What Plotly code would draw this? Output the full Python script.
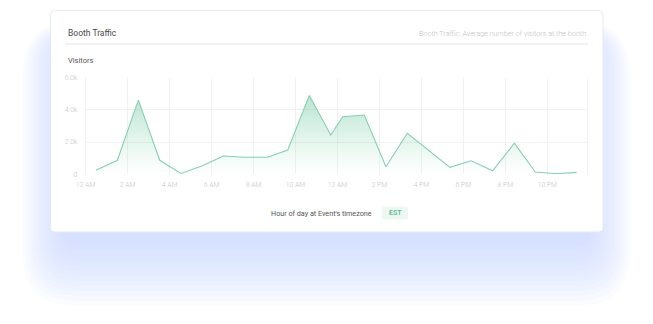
import plotly.graph_objects as go

W, H = 653, 324

# ---- data ----
hours = [0.49, 1.51, 2.51, 3.53, 4.54, 5.53, 6.56, 7.59, 8.66, 9.63, 10.66, 11.68,
         12.25, 13.28, 14.31, 15.33, 17.36, 18.37, 19.40, 20.43, 21.43, 22.42, 23.40]
visitors = [250, 870, 4610, 870, 50, 520, 1140, 1060, 1060, 1510, 4900, 2440,
            3580, 3680, 470, 2550, 430, 840, 220, 1930, 140, 30, 120]
x_tickvals = [0, 2, 4, 6, 8, 10, 12, 14, 16, 18, 20, 22]
x_ticktext = ["12 AM", "2 AM", "4 AM", "6 AM", "8 AM", "10 AM", "12 AM",
              "2 PM", "4 PM", "6 PM", "8 PM", "10 PM"]
y_tickvals = [0, 2000, 4000, 6000]
y_ticktext = ["0", "2.0k", "4.0k", "6.0k"]

FONT = "Roboto"


def px(x):
    return x / W


def py(y):
    return 1 - y / H


def rrect(x0, y0, x1, y1, r):
    rx, ry = r / W, r / H
    X0, X1 = px(x0), px(x1)
    Y0, Y1 = py(y0), py(y1)  # Y0 top (higher), Y1 bottom
    return (f"M {X0+rx},{Y0} L {X1-rx},{Y0} Q {X1},{Y0} {X1},{Y0-ry} "
            f"L {X1},{Y1+ry} Q {X1},{Y1} {X1-rx},{Y1} "
            f"L {X0+rx},{Y1} Q {X0},{Y1} {X0},{Y1+ry} "
            f"L {X0},{Y0-ry} Q {X0},{Y0} {X0+rx},{Y0} Z")


shapes = []
# glow
N = 13
for i in range(N):
    shapes.append(dict(type="path", xref="paper", yref="paper", layer="below",
                       path=rrect(62 - 3.3 * i, 36 - 1.2 * i, 591 + 3.3 * i, 246 + 5 * i, 18 + 3 * i),
                       fillcolor="rgba(190,205,248,0.065)", line=dict(width=0)))
# card
shapes.append(dict(type="path", xref="paper", yref="paper", layer="below",
                   path=rrect(50.5, 10.5, 603, 232, 4),
                   fillcolor="white", line=dict(color="rgba(228,233,247,1)", width=1)))
# header separator
shapes.append(dict(type="line", xref="paper", yref="paper", layer="below",
                   x0=px(65), x1=px(588), y0=py(44), y1=py(44),
                   line=dict(color="#e4e4e4", width=1)))
# EST badge
shapes.append(dict(type="path", xref="paper", yref="paper", layer="below",
                   path=rrect(382, 206.5, 408, 219.5, 2),
                   fillcolor="#eef8f3", line=dict(width=0)))

annotations = [
    dict(text="Booth Traffic", x=px(66), y=py(33), xref="paper", yref="paper",
         xanchor="left", yanchor="middle", showarrow=False,
         font=dict(family=FONT, size=8.5, color="#4a4a4a", weight=400)),
    dict(text="Booth Traffic: Average number of visitors at the booth", x=px(588), y=py(33),
         xref="paper", yref="paper", xanchor="right", yanchor="middle", showarrow=False,
         font=dict(family=FONT, size=7.2, color="#c2c2c2", weight=300)),
    dict(text="Visitors", x=px(66), y=py(61), xref="paper", yref="paper",
         xanchor="left", yanchor="middle", showarrow=False,
         font=dict(family=FONT, size=7.5, color="#555555", weight=400)),
    dict(text="Hour of day at Event's timezone", x=px(321), y=py(213), xref="paper", yref="paper",
         xanchor="center", yanchor="middle", showarrow=False,
         font=dict(family=FONT, size=7.2, color="#555555", weight=400)),
    dict(text="EST", x=px(395), y=py(213), xref="paper", yref="paper",
         xanchor="center", yanchor="middle", showarrow=False,
         font=dict(family=FONT, size=7, color="#5cbb92", weight=600)),
]

fig = go.Figure()
fig.add_trace(go.Scatter(
    x=hours, y=visitors, mode="lines",
    line=dict(color="#84d0b1", width=1.1),
    fill="tozeroy",
    fillgradient=dict(type="vertical", start=0, stop=5000,
                      colorscale=[[0, "rgba(140,215,180,0)"], [1, "rgba(110,198,158,0.5)"]]),
    hoverinfo="skip",
))

fig.update_layout(
    width=W, height=H,
    margin=dict(l=0, r=0, t=0, b=0, autoexpand=False),
    paper_bgcolor="white", plot_bgcolor="rgba(0,0,0,0)",
    showlegend=False,
    shapes=shapes, annotations=annotations,
    xaxis=dict(domain=[px(85.7), px(586.7)], range=[0, 23.88], automargin=False,
               tickvals=x_tickvals, ticktext=x_ticktext,
               showgrid=True, gridcolor="#f1f1f1", gridwidth=1,
               zeroline=False, showline=False, ticks="",
               ticklabelstandoff=5,
               tickfont=dict(family=FONT, size=6.8, color="#c4c4c4", weight=300)),
    yaxis=dict(domain=[py(174.3), py(77.7)], range=[0, 6000], automargin=False,
               tickvals=y_tickvals, ticktext=y_ticktext,
               showgrid=True, gridcolor="#f1f1f1", gridwidth=1,
               zeroline=False, showline=True, mirror=True, linecolor="#f1f1f1",
               ticks="", ticklabelstandoff=6,
               tickfont=dict(family=FONT, size=6.8, color="#c4c4c4", weight=300)),
)

fig.write_html("out.html")
